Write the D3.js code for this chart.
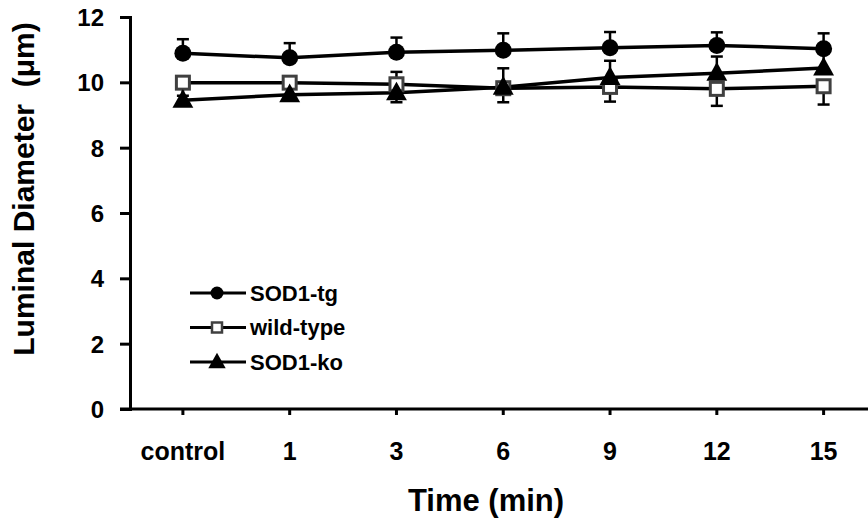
<!DOCTYPE html>
<html><head><meta charset="utf-8">
<script src="https://cdn.jsdelivr.net/npm/d3@7"></script>
<style>body{margin:0;background:#fff}text{font-family:"Liberation Sans",Arial,sans-serif;font-weight:bold}</style>
</head><body><svg id="c" width="868" height="520"></svg>
<script>
const categories = ["control","1","3","6","9","12","15"];
const yTicks = [0,2,4,6,8,10,12];
const tgValues = [10.89,10.75,10.92,10.98,11.06,11.13,11.03];
const tgErr    = [0.43,0.45,0.45,0.52,0.48,0.40,0.47];
const wtValues = [9.99,9.99,9.94,9.82,9.86,9.80,9.88];
const wtErr    = [0.40,0.40,0.55,0.43,0.45,0.52,0.56];
const koValues = [9.45,9.62,9.68,9.85,10.15,10.28,10.44];
const koErr    = [0.40,0.40,0.64,0.58,0.51,0.51,0.50];

const series = [
  {name:"SOD1-tg", values:tgValues, err:tgErr, dir:1, shape:"circle"},
  {name:"wild-type", values:wtValues, err:wtErr, dir:-1, shape:"square"},
  {name:"SOD1-ko", values:koValues, err:koErr, dir:1, shape:"triangle"}
];

const svg = d3.select("#c");
const x = d3.scaleBand().domain(categories).range([129.5,877]);
const y = d3.scaleLinear().domain([0,12]).range([409,17]);
const cx = d => x(d) + x.bandwidth()/2;

const FONT = '"Liberation Sans",Arial,sans-serif';
// axes
const xa = svg.append("g").attr("transform","translate(0,409)")
  .call(d3.axisBottom(x).tickSize(6));
xa.select(".domain").attr("d","M120,0H877");
xa.selectAll("text").attr("y",51).attr("dy",0).attr("font-size",25);
const ya = svg.append("g").attr("transform","translate(130,0)")
  .call(d3.axisLeft(y).tickValues(yTicks).tickSize(10).tickPadding(16));
ya.selectAll("text").attr("dy","0.36em").attr("font-size",24);
[xa,ya].forEach(g=>{
  g.selectAll("path,line").attr("stroke","#000").attr("stroke-width",3);
  g.selectAll("text").attr("fill","#000").attr("font-family",FONT);
});

svg.append("text").attr("x",486).attr("y",511).attr("text-anchor","middle")
  .attr("font-size",31).text("Time (min)");
svg.append("text").attr("transform","translate(34,189) rotate(-90)").attr("text-anchor","middle")
  .attr("font-size",30).attr("xml:space","preserve").style("white-space","pre").text("Luminal Diameter  (\u03bcm)");

const triPath = s => `M0,${-s*0.62}L${s*0.58},${s*0.42}L${-s*0.58},${s*0.42}Z`;
function marker(g, shape, px, py){
  if(shape==="circle") g.append("circle").attr("cx",px).attr("cy",py).attr("r",8.5).attr("fill","#000");
  else if(shape==="square") g.append("rect").attr("x",px-6.5).attr("y",py-6.5).attr("width",13).attr("height",13)
      .attr("fill","#fff").attr("stroke","#404040").attr("stroke-width",3);
  else g.append("path").attr("d",triPath(18)).attr("transform",`translate(${px},${py})`).attr("fill","#000");
}

const line = d3.line().x((d,i)=>cx(categories[i])).y(d=>y(d));
// error bars
series.forEach(s=>{
  const g = svg.append("g");
  s.values.forEach((v,i)=>{
    const px = cx(categories[i]), y0 = y(v), y1 = y(v + s.dir*s.err[i]);
    g.append("line").attr("x1",px).attr("x2",px).attr("y1",y0).attr("y2",y1).attr("stroke","#000").attr("stroke-width",2.5);
    g.append("line").attr("x1",px-6).attr("x2",px+6).attr("y1",y1).attr("y2",y1).attr("stroke","#000").attr("stroke-width",2.5);
  });
});
series.forEach(s=>{
  svg.append("path").datum(s.values).attr("d",line).attr("fill","none").attr("stroke","#000").attr("stroke-width",3.5);
});
series.forEach(s=>{
  const g = svg.append("g");
  s.values.forEach((v,i)=>marker(g, s.shape, cx(categories[i]), y(v)));
});

// legend
const leg = svg.append("g");
series.forEach((s,i)=>{
  const ly = 293 + i*34.5;
  leg.append("line").attr("x1",190).attr("x2",246).attr("y1",ly).attr("y2",ly).attr("stroke","#000").attr("stroke-width",3);
  const g = leg.append("g");
  if(s.shape==="circle") g.append("circle").attr("cx",217).attr("cy",ly).attr("r",6.5).attr("fill","#000");
  else if(s.shape==="square") g.append("rect").attr("x",212).attr("y",ly-5).attr("width",10).attr("height",10).attr("fill","#fff").attr("stroke","#404040").attr("stroke-width",2.5);
  else g.append("path").attr("d",triPath(15)).attr("transform",`translate(217,${ly})`).attr("fill","#000");
  leg.append("text").attr("x",250).attr("y",ly).attr("dy","0.36em").attr("font-size",22).text(s.name);
});
</script></body></html>
